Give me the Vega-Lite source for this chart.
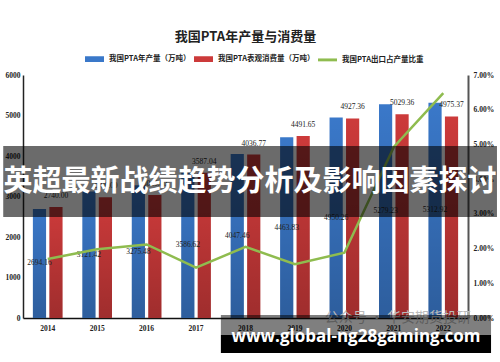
{
  "$schema": "https://vega.github.io/schema/vega-lite/v6.json",
  "width": 445,
  "height": 243,
  "autosize": "none",
  "padding": {"left": 23, "top": 75, "right": 32, "bottom": 44},
  "background": "white",
  "title": {"text": "我国PTA年产量与消费量", "font": "Noto Sans CJK SC", "fontSize": 13, "fontWeight": "bold", "color": "#222222", "anchor": "middle", "offset": 6},
  "config": {"view": {"stroke": null}},
  "datasets": {
    "bars": [
      {"year": "2014", "series": "我国PTA年产量（万吨）", "value": 2694.16},
      {"year": "2015", "series": "我国PTA年产量（万吨）", "value": 3121.42},
      {"year": "2016", "series": "我国PTA年产量（万吨）", "value": 3275.48},
      {"year": "2017", "series": "我国PTA年产量（万吨）", "value": 3586.62},
      {"year": "2018", "series": "我国PTA年产量（万吨）", "value": 4047.46},
      {"year": "2019", "series": "我国PTA年产量（万吨）", "value": 4463.83},
      {"year": "2020", "series": "我国PTA年产量（万吨）", "value": 4950.26},
      {"year": "2021", "series": "我国PTA年产量（万吨）", "value": 5279.23},
      {"year": "2022", "series": "我国PTA年产量（万吨）", "value": 5312.92},
      {"year": "2014", "series": "我国PTA表观消费量（万吨）", "value": 2740},
      {"year": "2015", "series": "我国PTA表观消费量（万吨）", "value": 2980},
      {"year": "2016", "series": "我国PTA表观消费量（万吨）", "value": 3040},
      {"year": "2017", "series": "我国PTA表观消费量（万吨）", "value": 3587.04},
      {"year": "2018", "series": "我国PTA表观消费量（万吨）", "value": 4036.77},
      {"year": "2019", "series": "我国PTA表观消费量（万吨）", "value": 4491.65},
      {"year": "2020", "series": "我国PTA表观消费量（万吨）", "value": 4927.36},
      {"year": "2021", "series": "我国PTA表观消费量（万吨）", "value": 5029.36},
      {"year": "2022", "series": "我国PTA表观消费量（万吨）", "value": 4975.37}
    ],
    "ratio": [
      {"year": "2014", "share": 0.0170},
      {"year": "2015", "share": 0.0198},
      {"year": "2016", "share": 0.0212},
      {"year": "2017", "share": 0.0145},
      {"year": "2018", "share": 0.0205},
      {"year": "2019", "share": 0.0155},
      {"year": "2020", "share": 0.0188},
      {"year": "2021", "share": 0.0493},
      {"year": "2022", "share": 0.0648}
    ]
  },
  "layer": [
    {
      "data": {"name": "bars"},
      "mark": {"type": "bar"},
      "encoding": {
        "x": {
          "field": "year", "type": "nominal",
          "scale": {"paddingInner": 0.4, "paddingOuter": 0.2},
          "axis": {"title": null, "labelAngle": 0, "ticks": false, "domainColor": "#111111", "domainWidth": 1.5, "labelFont": "Liberation Serif", "labelFontSize": 7.5, "labelFontWeight": "bold", "labelColor": "#222222", "labelPadding": 6}
        },
        "xOffset": {"field": "series", "type": "nominal", "scale": {"domain": ["我国PTA年产量（万吨）", "我国PTA表观消费量（万吨）"], "paddingInner": 0.2}},
        "y": {
          "field": "value", "type": "quantitative",
          "scale": {"domain": [0, 6000], "nice": false},
          "axis": {"title": null, "orient": "left", "values": [0, 1000, 2000, 3000, 4000, 5000, 6000], "format": "d", "grid": false, "ticks": false, "domainColor": "#222222", "domainWidth": 1.5, "labelFont": "Liberation Serif", "labelFontSize": 7.5, "labelFontWeight": "bold", "labelColor": "#222222", "labelPadding": 3}
        },
        "color": {
          "field": "series", "type": "nominal",
          "scale": {"domain": ["我国PTA年产量（万吨）", "我国PTA表观消费量（万吨）", "我国PTA出口占产量比重"], "range": ["#3a78c9", "#cc3a3a", "#8fbc4f"]},
          "legend": {
            "title": null, "orient": "none", "direction": "horizontal", "legendX": 62, "legendY": -25.5, "padding": 0,
            "symbolType": "M-1,-0.25H1V0.25H-1Z", "symbolSize": 306, "labelOffset": 5, "columnPadding": 0,
            "labelFont": "Noto Sans CJK SC", "labelFontSize": 7.5, "labelFontWeight": "bold", "labelColor": "#222222",
            "encode": {"symbols": {"update": {"shape": {"signal": "datum.value === '我国PTA出口占产量比重' ? 'M-1,-0.08H1V0.08H-1Z' : 'M-1,-0.25H1V0.25H-1Z'"}, "fill": {"scale": "color", "field": "value"}, "stroke": {"value": "transparent"}}}}
          }
        }
      }
    },
    {
      "data": {"name": "bars"},
      "mark": {"type": "bar", "fill": {"gradient": "linear", "x1": 0, "y1": 0, "x2": 0, "y2": 1, "stops": [{"offset": 0, "color": "rgba(0,0,0,0)"}, {"offset": 1, "color": "rgba(0,0,0,0.22)"}]}},
      "encoding": {
        "x": {"field": "year", "type": "nominal"},
        "xOffset": {"field": "series", "type": "nominal"},
        "y": {"field": "value", "type": "quantitative", "scale": {"domain": [0, 6000], "nice": false}, "axis": null}
      }
    },
    {
      "data": {"name": "bars"},
      "transform": [{"filter": "datum.series === '我国PTA年产量（万吨）'"}],
      "mark": {"type": "text", "font": "Liberation Serif", "fontSize": 7.5, "color": "#222222", "baseline": "middle"},
      "encoding": {
        "x": {"field": "year", "type": "nominal"},
        "xOffset": {"field": "series", "type": "nominal"},
        "y": {"field": "value", "type": "quantitative", "scale": {"domain": [0, 12000], "nice": false}, "axis": null},
        "text": {"field": "value", "type": "quantitative", "format": ".2f"}
      }
    },
    {
      "data": {"name": "bars"},
      "transform": [{"filter": "datum.series === '我国PTA表观消费量（万吨）'"}],
      "mark": {"type": "text", "font": "Liberation Serif", "fontSize": 7.5, "color": "#222222", "baseline": "middle", "dy": -11},
      "encoding": {
        "x": {"field": "year", "type": "nominal"},
        "xOffset": {"field": "series", "type": "nominal"},
        "y": {"field": "value", "type": "quantitative", "scale": {"domain": [0, 6000], "nice": false}, "axis": null},
        "text": {"field": "value", "type": "quantitative", "format": ".2f"}
      }
    },
    {
      "data": {"name": "ratio"},
      "mark": {"type": "line", "strokeWidth": 2.5},
      "encoding": {
        "x": {"field": "year", "type": "nominal"},
        "y": {
          "field": "share", "type": "quantitative",
          "scale": {"domain": [0, 0.07], "nice": false},
          "axis": {"title": null, "orient": "right", "values": [0, 0.01, 0.02, 0.03, 0.04, 0.05, 0.06, 0.07], "format": ".2%", "grid": false, "ticks": false, "domainColor": "#555555", "domainWidth": 2, "labelFont": "Liberation Serif", "labelFontSize": 7.5, "labelFontWeight": "bold", "labelColor": "#222222", "labelPadding": 5}
        },
        "color": {"datum": "我国PTA出口占产量比重"}
      }
    },
    {
      "data": {"values": [{"label": "英超最新战绩趋势分析及影响因素探讨"}]},
      "layer": [
        {
          "mark": {"type": "rect", "color": "#000000", "opacity": 0.58},
          "encoding": {
            "x": {"datum": "2014", "bandPosition": -1.0},
            "x2": {"datum": "2022", "bandPosition": 2.31},
            "y": {"datum": 4247, "scale": {"domain": [0, 6000], "nice": false}, "axis": null},
            "y2": {"datum": 2494}
          }
        },
        {
          "mark": {"type": "text", "color": "white", "font": "Noto Sans CJK SC", "fontWeight": "bold", "fontSize": 29, "baseline": "middle", "align": "center"},
          "encoding": {
            "x": {"datum": "2018", "bandPosition": 0.65},
            "y": {"datum": 3370, "scale": {"domain": [0, 6000], "nice": false}, "axis": null},
            "text": {"field": "label"}
          }
        }
      ]
    },
    {
      "data": {"values": [{"label": "公众号 · 华安期货投研"}]},
      "mark": {"type": "text", "color": "#bbbbbb", "font": "Noto Sans CJK SC", "fontSize": 14, "baseline": "middle", "align": "center"},
      "encoding": {
        "x": {"datum": "2020", "bandPosition": 2.3},
        "y": {"datum": 0, "scale": {"domain": [0, 6000], "nice": false}, "axis": null},
        "text": {"field": "label"}
      }
    },
    {
      "data": {"values": [{"label": "www.global-ng28gaming.com"}]},
      "layer": [
        {
          "mark": {"type": "rect", "color": "#000000", "opacity": 0.5},
          "encoding": {
            "x": {"datum": "2018", "bandPosition": -0.33},
            "x2": {"datum": "2022", "bandPosition": 2.11},
            "y": {"datum": 74, "scale": {"domain": [0, 6000], "nice": false}, "axis": null},
            "y2": {"datum": -420}
          }
        },
        {
          "mark": {"type": "rect", "color": "#000000", "opacity": 1},
          "encoding": {
            "x": {"datum": "2018", "bandPosition": -0.33},
            "x2": {"datum": "2022", "bandPosition": 2.11},
            "y": {"datum": -420, "scale": {"domain": [0, 6000], "nice": false}, "axis": null},
            "y2": {"datum": -864}
          }
        },
        {
          "mark": {"type": "text", "color": "white", "font": "Open Sans", "fontWeight": "bold", "fontSize": 17, "baseline": "middle", "align": "center"},
          "encoding": {
            "x": {"datum": "2020", "bandPosition": 0.89},
            "y": {"datum": -469, "scale": {"domain": [0, 6000], "nice": false}, "axis": null},
            "text": {"field": "label"}
          }
        }
      ]
    }
  ],
  "resolve": {"scale": {"y": "independent"}}
}
